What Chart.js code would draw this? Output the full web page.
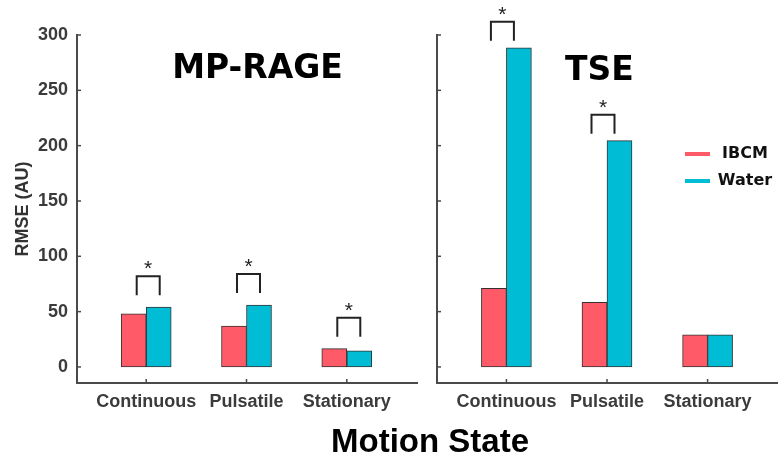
<!DOCTYPE html>
<html><head><meta charset="utf-8">
<script src="https://cdn.jsdelivr.net/npm/chart.js@4"></script>
<style>
html,body{margin:0;padding:0;background:#fff;width:778px;height:460px;overflow:hidden;}
#c1{position:absolute;left:0;top:0;}
#c2{position:absolute;left:420px;top:0;}
#xt{position:absolute;left:280px;width:300px;top:424px;text-align:center;font:bold 33px "Liberation Sans",Arial,sans-serif;line-height:33px;color:#000;}
</style></head><body>
<canvas id="c1" width="420" height="460"></canvas>
<canvas id="c2" width="358" height="460"></canvas>
<div id="xt">Motion State</div>
<script>
const categories = ['Continuous', 'Pulsatile', 'Stationary'];
const seriesNames = ['IBCM', 'Water'];
const mpIBCM = [48, 37, 16.5];
const mpWater = [54, 56, 14.5];
const tseIBCM = [71, 58.5, 29];
const tseWater = [288.5, 204.5, 29];
const mpSig = [true, true, true];
const tseSig = [true, true, false];
const yTicks = [0, 50, 100, 150, 200, 250, 300];
const panelTitles = ['MP-RAGE', 'TSE'];
const yTitle = 'RMSE (AU)';
const colors = ['#FF5A68', '#00BCD4'];

const deco = {
  id: 'deco',
  afterDatasetsDraw(chart, args, opts) {
    const ctx = chart.ctx, x = chart.scales.x, y = chart.scales.y, ca = chart.chartArea;
    ctx.save();
    ctx.strokeStyle = '#4a4a4a'; ctx.lineWidth = 1.5;
    yTicks.forEach(v => {
      const p = y.getPixelForValue(v);
      ctx.beginPath(); ctx.moveTo(ca.left, p); ctx.lineTo(ca.left + 4, p); ctx.stroke();
    });
    categories.forEach((c, i) => {
      const p = x.getPixelForValue(i + 1);
      ctx.beginPath(); ctx.moveTo(p, ca.bottom); ctx.lineTo(p, ca.bottom - 4); ctx.stroke();
    });
    opts.sig.forEach((s, i) => {
      if (!s) return;
      const top = Math.min(...chart.data.datasets.map(d => y.getPixelForValue(d.data[i].y)));
      const cx = x.getPixelForValue(i + 1) + opts.bx;
      const legB = top - opts.gap, brT = legB - 19;
      ctx.strokeStyle = '#222'; ctx.lineWidth = 2;
      ctx.beginPath();
      ctx.moveTo(cx - 11.5, legB); ctx.lineTo(cx - 11.5, brT); ctx.lineTo(cx + 11.5, brT); ctx.lineTo(cx + 11.5, legB);
      ctx.stroke();
      ctx.fillStyle = '#222'; ctx.font = '21px "Liberation Sans", Arial';
      ctx.textAlign = 'center'; ctx.textBaseline = 'alphabetic';
      ctx.fillText('*', cx, brT - 1);
    });
    ctx.fillStyle = '#000'; ctx.font = 'bold 33px "DejaVu Sans"';
    ctx.textAlign = 'center'; ctx.textBaseline = 'alphabetic';
    ctx.fillText(opts.title, x.getPixelForValue(opts.tx), y.getPixelForValue(opts.ty));
    if (opts.legend) {
      chart.data.datasets.forEach((d, k) => {
        const ly = 154 + k * 27;
        ctx.strokeStyle = d.backgroundColor; ctx.lineWidth = 4;
        ctx.beginPath(); ctx.moveTo(ca.right - 93, ly); ctx.lineTo(ca.right - 68, ly); ctx.stroke();
        ctx.fillStyle = '#111'; ctx.font = 'bold 16px "DejaVu Sans"';
        ctx.textAlign = 'center'; ctx.textBaseline = 'middle';
        ctx.fillText(d.label, ca.right - 33, ly);
      });
    }
    ctx.restore();
  }
};

function makeChart(id, ib, wa, o) {
  const ds = (k, arr) => ({
    label: seriesNames[k],
    data: arr.map((v, i) => ({ x: i + 1, y: v })),
    backgroundColor: colors[k], borderColor: '#333', borderWidth: 1,
    borderSkipped: false, barThickness: 25
  });
  return new Chart(document.getElementById(id), {
    type: 'bar',
    data: { datasets: [ds(0, ib), ds(1, wa)] },
    options: {
      responsive: false, animation: false,
      layout: { padding: { top: 35, right: o.padRight, left: 0, bottom: 0 } },
      plugins: {
        legend: { display: false }, tooltip: { enabled: false },
        deco: { sig: o.sig, gap: o.gap, bx: o.bx, title: o.title, tx: o.tx, ty: o.ty, legend: o.legend }
      },
      scales: {
        x: {
          type: 'linear', min: 0.31, max: 3.70, offset: false,
          grid: { display: false, drawTicks: false },
          border: { display: true, color: '#4a4a4a', width: 2 },
          afterBuildTicks: s => { s.ticks = categories.map((c, i) => ({ value: i + 1 })); },
          ticks: {
            autoSkip: false, maxRotation: 0, padding: 8, color: '#3b3b3b',
            font: { family: '"Liberation Sans", Arial', size: 18, weight: 'bold' },
            callback: v => categories[v - 1] ?? ''
          },
          afterFit: s => { s.height = 77; }
        },
        y: {
          min: -14.5, max: 300,
          grid: { display: false, drawTicks: false },
          border: { display: true, color: '#4a4a4a', width: 2 },
          afterBuildTicks: s => { s.ticks = yTicks.map(v => ({ value: v })); },
          ticks: {
            display: o.showY, padding: 9, color: '#3b3b3b',
            font: { family: '"Liberation Sans", Arial', size: 18, weight: 'bold' }
          },
          title: {
            display: o.showY, text: yTitle, color: '#333', padding: { top: 12, bottom: 0 },
            font: { family: '"Liberation Sans", Arial', size: 18, weight: 'bold' }
          },
          afterFit: s => { s.width = o.yw; }
        }
      }
    },
    plugins: [deco]
  });
}

makeChart('c1', mpIBCM, mpWater, { padRight: 3, sig: mpSig, gap: 12, bx: 2, title: panelTitles[0], tx: 2.11, ty: 261, legend: false, showY: true, yw: 77 });
makeChart('c2', tseIBCM, tseWater, { padRight: 0, sig: tseSig, gap: 7, bx: -4, title: panelTitles[1], tx: 1.925, ty: 259, legend: true, showY: false, yw: 17 });
</script>
</body></html>
